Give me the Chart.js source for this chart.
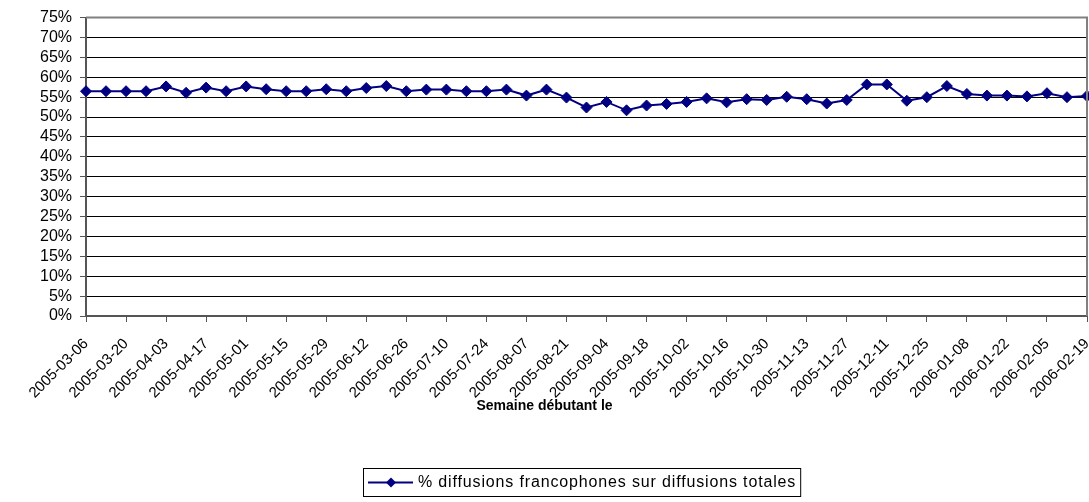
<!DOCTYPE html>
<html>
<head>
<meta charset="utf-8">
<script src="https://cdn.jsdelivr.net/npm/chart.js@4.4.1/dist/chart.umd.min.js"></script>
<style>
    html, body { margin: 0; padding: 0; background: #fff; }
    #wrap { width: 1089px; height: 502px; }
</style>
</head>
<body>
<div id="wrap"><canvas id="myChart" width="1089" height="502"></canvas></div>
<script>
const weeks = [
    '2005-03-06', '2005-03-13', '2005-03-20', '2005-03-27', '2005-04-03', '2005-04-10',
    '2005-04-17', '2005-04-24', '2005-05-01', '2005-05-08', '2005-05-15', '2005-05-22',
    '2005-05-29', '2005-06-05', '2005-06-12', '2005-06-19', '2005-06-26', '2005-07-03',
    '2005-07-10', '2005-07-17', '2005-07-24', '2005-07-31', '2005-08-07', '2005-08-14',
    '2005-08-21', '2005-08-28', '2005-09-04', '2005-09-11', '2005-09-18', '2005-09-25',
    '2005-10-02', '2005-10-09', '2005-10-16', '2005-10-23', '2005-10-30', '2005-11-06',
    '2005-11-13', '2005-11-20', '2005-11-27', '2005-12-04', '2005-12-11', '2005-12-18',
    '2005-12-25', '2006-01-01', '2006-01-08', '2006-01-15', '2006-01-22', '2006-01-29',
    '2006-02-05', '2006-02-12', '2006-02-19'
];

// % des diffusions francophones, par semaine
const francoPct = [
    56.5, 56.5, 56.5, 56.5, 57.7, 56.1, 57.4, 56.5, 57.7, 57.0,
    56.5, 56.5, 57.0, 56.5, 57.3, 57.8, 56.5, 56.9, 56.9, 56.5,
    56.5, 56.9, 55.4, 56.9, 54.9, 52.4, 53.8, 51.7, 52.9, 53.3,
    53.8, 54.7, 53.7, 54.5, 54.3, 55.1, 54.5, 53.4, 54.3, 58.2,
    58.2, 54.1, 55.0, 57.8, 55.8, 55.4, 55.4, 55.2, 56.0, 55.0,
    55.3
];

const seriesLabel = '% diffusions francophones sur diffusions totales';
const xTitle = 'Semaine débutant le';
const yMin = 0;
const yMax = 75;
const yStep = 5;

const navy = '#000080';
const fontName = '"Liberation Sans", Arial, sans-serif';

// cadre gris de la zone de tracé, titre de l'axe X et légende encadrée
const frameAndLegend = {
    id: 'frameAndLegend',
    afterDraw(chart) {
        const ctx = chart.ctx;
        const a = chart.chartArea;
        ctx.save();
        ctx.strokeStyle = '#808080';
        ctx.lineWidth = 2;
        ctx.beginPath();
        ctx.moveTo(a.left, a.top);
        ctx.lineTo(a.right, a.top);
        ctx.lineTo(a.right, a.bottom);
        ctx.stroke();

        // titre de l'axe, centré sur la largeur du graphique
        ctx.fillStyle = '#000';
        ctx.font = 'bold 14px ' + fontName;
        ctx.textAlign = 'center';
        ctx.textBaseline = 'middle';
        ctx.fillText(xTitle, chart.width / 2, 406);

        const ds = chart.data.datasets[0];
        ctx.font = '16px ' + fontName;
        ctx.letterSpacing = '0.85px';
        const tw = ctx.measureText(ds.label).width;
        const bx = 363, by = 468, bh = 28;
        const bw = 55 + tw + 4;
        ctx.lineWidth = 1;
        ctx.strokeStyle = '#000';
        ctx.strokeRect(bx + 0.5, by + 0.5, bw, bh);

        const cy = by + bh / 2 + 0.5;
        ctx.strokeStyle = navy;
        ctx.lineWidth = 2;
        ctx.beginPath();
        ctx.moveTo(bx + 5, cy);
        ctx.lineTo(bx + 50, cy);
        ctx.stroke();
        ctx.fillStyle = navy;
        ctx.beginPath();
        ctx.moveTo(bx + 23, cy);
        ctx.lineTo(bx + 28, cy - 5);
        ctx.lineTo(bx + 33, cy);
        ctx.lineTo(bx + 28, cy + 5);
        ctx.closePath();
        ctx.fill();

        ctx.fillStyle = '#000';
        ctx.textAlign = 'left';
        ctx.fillText(ds.label, bx + 55, cy);
        ctx.restore();
    }
};

document.addEventListener('DOMContentLoaded', function () {
    const ctx = document.getElementById('myChart');
    new Chart(ctx, {
        type: 'line',
        data: {
            labels: weeks,
            datasets: [{
                label: seriesLabel,
                data: francoPct,
                borderColor: navy,
                borderWidth: 2,
                backgroundColor: navy,
                pointStyle: 'rectRot',
                pointRadius: 5.5,
                pointBorderWidth: 1,
                pointBorderColor: navy,
                pointBackgroundColor: navy,
                tension: 0,
                clip: false
            }]
        },
        options: {
            responsive: false,
            animation: false,
            devicePixelRatio: 1,
            layout: {
                autoPadding: false,
                padding: { left: 0, right: 2, top: 16, bottom: 81 }
            },
            plugins: {
                legend: { display: false },
                tooltip: { enabled: false }
            },
            scales: {
                x: {
                    offset: false,
                    afterFit: function (scale) {
                        scale.height = 105;
                        scale.paddingLeft = 0;
                        scale.paddingRight = 0;
                    },
                    grid: {
                        drawOnChartArea: false,
                        tickLength: 6,
                        tickWidth: 1,
                        tickColor: function (c) { return c.index % 2 === 0 ? '#555' : 'rgba(0,0,0,0)'; }
                    },
                    border: { color: '#555', width: 2 },
                    ticks: {
                        autoSkip: false,
                        minRotation: 45,
                        maxRotation: 45,
                        padding: 13,
                        color: '#000',
                        font: { family: fontName, size: 15 },
                        callback: function (v, i) { return i % 2 === 0 ? this.getLabelForValue(v) : ''; }
                    }
                },
                y: {
                    min: yMin,
                    max: yMax,
                    afterFit: function (scale) { scale.width = 86; },
                    grid: {
                        color: function (c) { return c.tick && c.tick.value === yMax ? '#808080' : '#000'; },
                        lineWidth: 1,
                        tickLength: 6,
                        tickColor: '#555'
                    },
                    border: { color: '#555', width: 2 },
                    ticks: {
                        stepSize: yStep,
                        autoSkip: false,
                        padding: 8,
                        color: '#000',
                        font: { family: fontName, size: 16 },
                        callback: function (v) { return v + '%'; }
                    }
                }
            }
        },
        plugins: [frameAndLegend]
    });
});
</script>
</body>
</html>
